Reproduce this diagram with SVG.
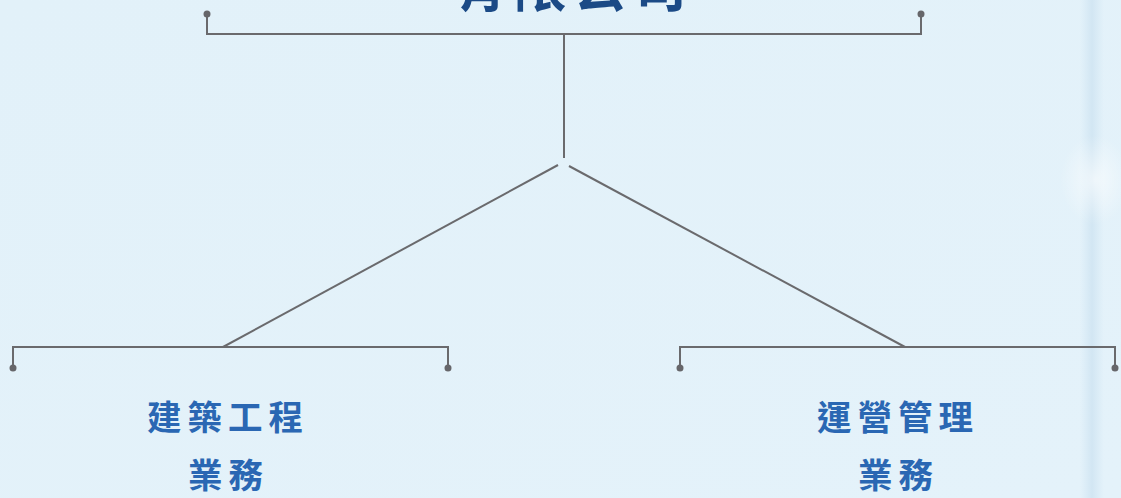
<svg xmlns="http://www.w3.org/2000/svg" width="1121" height="498" viewBox="0 0 1121 498">
<style>
.ln{stroke:#6a6a6d;stroke-width:2;fill:none}
.dot{fill:#66666a}
.top{font-family:"Noto Sans CJK TC","Noto Sans CJK SC",sans-serif;font-weight:700;font-size:53px;fill:#1b4a86;letter-spacing:7px}
.lbl{font-family:"Noto Sans CJK TC","Noto Sans CJK SC",sans-serif;font-weight:700;font-size:34.5px;fill:#2a67b3;letter-spacing:6px}
</style>
<defs>
<linearGradient id="bg" x1="0" y1="0" x2="1" y2="1">
<stop offset="0" stop-color="#e2f1f9"/>
<stop offset="1" stop-color="#e4f2fa"/>
</linearGradient>
<linearGradient id="stripe" x1="0" y1="0" x2="1" y2="0">
<stop offset="0" stop-color="#d3e7f4" stop-opacity="0"/>
<stop offset="0.5" stop-color="#d2e6f3"/>
<stop offset="1" stop-color="#d3e7f4" stop-opacity="0"/>
</linearGradient>
<radialGradient id="glow" cx="0.5" cy="0.5" r="0.5">
<stop offset="0" stop-color="#ffffff" stop-opacity="0.6"/>
<stop offset="1" stop-color="#ffffff" stop-opacity="0"/>
</radialGradient>
</defs>
<rect width="1121" height="498" fill="url(#bg)"/>
<rect x="1080" y="0" width="24" height="498" fill="url(#stripe)"/>
<ellipse cx="1095" cy="180" rx="35" ry="45" fill="url(#glow)"/>
<g id="connectors">
<path class="ln" d="M207 14V34H921V14"/>
<path class="ln" d="M564 34V158"/>
<path class="ln" d="M558 165L223 347"/>
<path class="ln" d="M569 166L905 347"/>
<path class="ln" d="M13 368V347H448V368"/>
<path class="ln" d="M680 368V347H1115V368"/>
<circle class="dot" cx="207" cy="14" r="3.5"/>
<circle class="dot" cx="921" cy="14" r="3.5"/>
<circle class="dot" cx="13" cy="368" r="3.5"/>
<circle class="dot" cx="448" cy="368" r="3.5"/>
<circle class="dot" cx="680" cy="368" r="3.5"/>
<circle class="dot" cx="1115" cy="368" r="3.5"/>
</g>
<g id="node-top">
<text class="top" x="573.5" y="7" text-anchor="middle">有限公司</text>
</g>
<g id="node-left">
<text class="lbl" x="228" y="430" text-anchor="middle">建築工程</text>
<text class="lbl" x="228.5" y="488" text-anchor="middle">業務</text>
</g>
<g id="node-right">
<text class="lbl" x="898" y="430" text-anchor="middle">運營管理</text>
<text class="lbl" x="898.5" y="488" text-anchor="middle">業務</text>
</g>
</svg>
